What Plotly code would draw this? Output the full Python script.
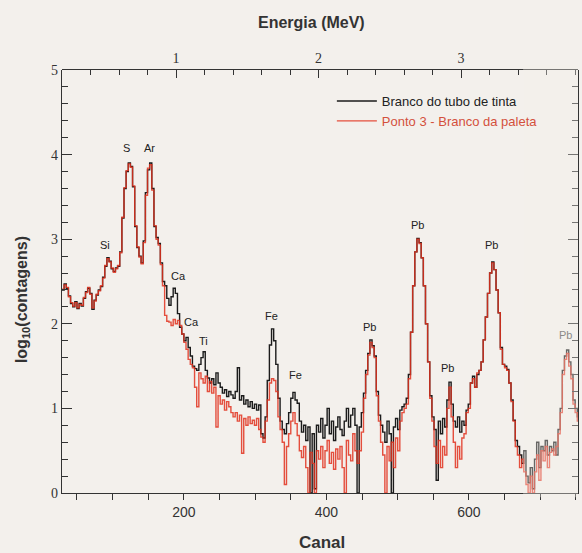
import plotly.graph_objects as go

# ---------------- data ----------------
channel_start = 29
channel_step = 3

black_log = [
    2.40, 2.47, 2.42, 2.33, 2.24, 2.20, 2.26, 2.18, 2.24, 2.21,
    2.30, 2.38, 2.42, 2.36, 2.17, 2.28, 2.34, 2.40, 2.44, 2.55,
    2.68, 2.78, 2.74, 2.65, 2.62, 2.66, 2.68, 2.85, 3.25, 3.60,
    3.80, 3.90, 3.86, 3.62, 3.15, 2.90, 2.80, 2.72, 2.98, 3.55,
    3.82, 3.90, 3.60, 3.15, 3.02, 2.95, 2.72, 2.50, 2.45, 2.30,
    2.22, 2.32, 2.42, 2.36, 2.12, 1.96, 1.88, 1.80, 1.84, 1.72,
    1.62, 1.50, 1.47, 1.45, 1.52, 1.60, 1.67, 1.45, 1.36, 1.30,
    1.35, 1.28, 1.42, 1.30, 1.25, 1.18, 1.22, 1.14, 1.20, 1.16,
    1.12, 1.20, 1.48, 1.10, 1.15, 1.05, 1.10, 1.02, 1.08, 1.00,
    1.05, 0.98, 1.04, 0.70, 0.65, 0.90, 1.33, 1.75, 1.94, 1.80,
    1.52, 1.12, 0.85, 0.75, 0.70, 0.82, 0.95, 1.12, 1.19, 1.10,
    1.06, 0.85, 0.72, 0.80, 0.62, 0.78, 0.00, 0.70, 0.05, 0.80,
    0.72, 0.88, 0.65, 0.80, 1.00, 0.70, 0.85, 0.62, 0.78, 0.90,
    0.75, 0.68, 0.85, 1.00, 0.78, 0.92, 1.00, 0.80, 0.00, 0.78,
    0.95, 1.18, 1.45, 1.65, 1.81, 1.74, 1.62, 1.20, 0.92, 0.80,
    0.72, 0.60, 0.85, 0.70, 0.00, 0.78, 0.88, 0.75, 0.98, 1.02,
    1.05, 1.12, 1.40, 1.90, 2.45, 2.85, 3.01, 2.96, 2.78, 2.45,
    2.00, 1.55, 1.15, 0.90, 0.75, 0.15, 0.85, 0.70, 0.88, 0.78,
    1.10, 1.31, 1.05, 0.85, 0.78, 0.90, 0.72, 0.85, 0.80, 0.98,
    1.05, 1.30, 1.38, 1.25, 1.40, 1.45, 1.55, 1.81, 2.08, 2.36,
    2.60, 2.73, 2.64, 2.40, 2.13, 1.72, 1.52, 1.50, 1.46, 1.30,
    1.10, 0.86, 0.62, 0.55, 0.45, 0.35, 0.50, 0.20, 0.12, 0.30,
    0.05, 0.40, 0.60, 0.30, 0.55, 0.50, 0.62, 0.45, 0.55, 0.50,
    0.60, 0.45, 0.75, 1.00, 1.45, 1.62, 1.69, 1.55, 1.40, 1.10,
    1.00, 0.90, 0.85, 0.80,
]

red_log = [
    2.41, 2.46, 2.43, 2.32, 2.25, 2.21, 2.25, 2.19, 2.23, 2.22,
    2.31, 2.37, 2.43, 2.35, 2.19, 2.27, 2.35, 2.39, 2.45, 2.54,
    2.69, 2.77, 2.73, 2.66, 2.61, 2.65, 2.69, 2.84, 3.26, 3.61,
    3.81, 3.89, 3.85, 3.63, 3.16, 2.91, 2.79, 2.71, 2.96, 3.52,
    3.84, 3.88, 3.58, 3.16, 3.00, 2.93, 2.70, 2.45, 2.10, 2.03,
    2.02, 1.98, 2.05, 2.00, 2.04, 1.98, 1.88, 1.78, 1.70, 1.58,
    1.52, 1.48, 1.25, 1.02, 1.42, 1.35, 1.30, 1.38, 1.20, 1.32,
    1.18, 1.25, 0.78, 1.15, 1.05, 1.10, 0.98, 1.08, 1.02, 0.95,
    0.90, 0.95, 0.85, 0.92, 0.47, 0.88, 0.80, 0.90, 0.82, 0.86,
    0.80, 0.88, 0.75, 0.66, 0.60, 0.85, 1.10, 1.30, 1.35, 1.33,
    1.20, 0.90, 0.75, 0.60, 0.10, 0.55, 0.70, 0.85, 0.95, 0.82,
    0.68, 0.50, 0.42, 0.55, 0.30, 0.00, 0.48, 0.35, 0.00, 0.50,
    0.40, 0.55, 0.30, 0.50, 0.62, 0.35, 0.48, 0.28, 0.52, 0.40,
    0.55, 0.30, 0.00, 0.62, 0.45, 0.38, 0.70, 0.50, 0.35, 0.50,
    0.72, 1.12, 1.40, 1.63, 1.78, 1.72, 1.60, 1.15, 0.85, 0.60,
    0.45, 0.00, 0.55, 0.38, 0.60, 0.30, 0.65, 0.50, 0.85, 0.95,
    1.00, 1.05, 1.35, 1.90, 2.45, 2.85, 3.00, 2.95, 2.78, 2.45,
    2.00, 1.55, 1.12, 0.85, 0.55, 0.35, 0.62, 0.30, 0.55, 0.45,
    1.00, 1.25, 0.90, 0.60, 0.30, 0.55, 0.40, 0.65, 0.70, 0.95,
    1.00, 1.30, 1.35, 1.25, 1.42, 1.45, 1.55, 1.81, 2.08, 2.36,
    2.60, 2.72, 2.64, 2.40, 2.13, 1.70, 1.52, 1.48, 1.45, 1.30,
    1.08, 0.85, 0.55, 0.45, 0.30, 0.40, 0.25, 0.10, 0.00, 0.20,
    0.00, 0.25, 0.45, 0.15, 0.50, 0.38, 0.55, 0.30, 0.48, 0.52,
    0.45, 0.55, 0.70, 0.95, 1.40, 1.58, 1.65, 1.50, 1.35, 1.05,
    0.95, 0.85, 0.80, 0.75,
]

channels = [channel_start + channel_step * i for i in range(len(black_log))]

series_names = ["Branco do tubo de tinta", "Ponto 3 - Branco da paleta"]

# peak labels: (text, channel, log10 counts)
peak_labels = [
    ("Si", 89, 2.93), ("S", 119, 4.08), ("Ar", 152, 4.08),
    ("Ca", 193, 2.56), ("Ca", 211, 2.02), ("Ti", 228, 1.80),
    ("Fe", 323, 2.09), ("Fe", 357, 1.39), ("Pb", 461, 1.96),
    ("Pb", 528, 3.17), ("Pb", 570, 1.48), ("Pb", 631, 2.93),
    ("Pb", 736, 1.87),
]

x_range = [29, 753]
y_range = [0, 5]
y_ticks = [0, 1, 2, 3, 4, 5]
energy_ticks = [1, 2, 3]
# energy calibration: channel = gain * E - offset
cal_gain = 200.0
cal_offset = 11.0
faded_from_channel = 676

# ---------------- figure ----------------
BG = "#f3f0ec"
RED = "#e2321f"
AX = "#333333"
fig = go.Figure()

fig.add_trace(go.Scatter(
    x=channels, y=black_log, mode="lines", line_shape="hv",
    line=dict(color="#1b1b1b", width=1.4), name=series_names[0],
))
fig.add_trace(go.Scatter(
    x=channels, y=red_log, mode="lines", line_shape="hv",
    line=dict(color=RED, width=1.4), opacity=0.85,
    name="<span style='color:#d4503c'>" + series_names[1] + "</span>",
))
# invisible trace on a thin top subplot that carries the energy axis
e_lo = (x_range[0] + cal_offset) / cal_gain
e_hi = (x_range[1] + cal_offset) / cal_gain
fig.add_trace(go.Scatter(
    x=[e_lo, e_hi], y=[None, None], xaxis="x2", yaxis="y2", mode="lines",
    showlegend=False, hoverinfo="skip",
))

for txt, ch, yv in peak_labels:
    fig.add_annotation(
        x=ch, y=yv, text=txt, showarrow=False,
        font=dict(family="Liberation Sans, Arial", size=11, color="#222"),
        opacity=0.5 if ch > 700 else 1.0,
    )

# scan-fade on the right side of the original figure
fig.add_shape(
    type="rect", xref="x", yref="paper", x0=faded_from_channel, x1=x_range[1] + 20,
    y0=-0.01, y1=1.01, fillcolor=BG, opacity=0.35, line_width=0, layer="above",
)

tickfont_serif = dict(family="Liberation Serif, Times New Roman", size=14, color=AX)

fig.update_layout(
    width=582, height=553,
    margin=dict(l=62, r=4, t=70, b=60),
    paper_bgcolor=BG, plot_bgcolor=BG,
    showlegend=True,
    legend=dict(
        x=0.523, y=0.962, xanchor="left", yanchor="top",
        bgcolor="rgba(0,0,0,0)", borderwidth=0,
        font=dict(family="Liberation Sans, Arial", size=13, color="#222"),
        itemwidth=40, tracegroupgap=0,
    ),
    xaxis=dict(
        range=x_range, tickvals=[200, 400, 600], domain=[0, 1], anchor="y",
        ticks="outside", ticklen=6, tickcolor=AX, tickwidth=1,
        minor=dict(dtick=50, tick0=0, ticks="outside", ticklen=6, tickcolor=AX),
        showline=True, linecolor=AX, linewidth=1.2, mirror=False,
        showgrid=False, zeroline=False,
        tickfont=dict(family="Liberation Sans, Arial", size=14, color=AX),
    ),
    xaxis2=dict(
        anchor="y2", side="top", range=[e_lo, e_hi], domain=[0, 1],
        tickvals=energy_ticks, ticks="inside", ticklen=8, tickcolor=AX,
        minor=dict(dtick=0.2, tick0=0, ticks="inside", ticklen=5, tickcolor=AX),
        showline=True, linecolor=AX, linewidth=1.2,
        showgrid=False, zeroline=False, tickfont=tickfont_serif,
    ),
    yaxis2=dict(
        domain=[0.995, 1.0], anchor="x2", range=[0, 1], visible=False,
        showgrid=False, zeroline=False,
    ),
    yaxis=dict(
        domain=[0, 1], anchor="x",
        range=y_range, tickvals=y_ticks, ticktext=[str(v) for v in y_ticks],
        ticks="inside", ticklen=10, tickcolor=AX, tickwidth=1.2,
        minor=dict(dtick=0.2, tick0=0, ticks="inside", ticklen=6, tickcolor=AX,
                   tickwidth=1.1),
        showline=True, linecolor=AX, linewidth=1.2, mirror="ticks",
        showgrid=False, zeroline=False, tickfont=tickfont_serif,
    ),
    annotations=list(fig.layout.annotations) + [
        dict(text="<b>Energia (MeV)</b>", xref="paper", yref="paper",
             x=0.484, y=1.113, xanchor="center", yanchor="middle", showarrow=False,
             font=dict(family="Liberation Sans, Arial", size=16, color=AX)),
        dict(text="<b>Canal</b>", xref="paper", yref="paper",
             x=0.504, y=-0.118, xanchor="center", yanchor="middle", showarrow=False,
             font=dict(family="Liberation Sans, Arial", size=17, color=AX)),
        dict(text="<b>log<sub>10</sub>(contagens)</b>", xref="paper", yref="paper",
             x=-0.0775, y=0.456, xanchor="center", yanchor="middle",
             showarrow=False, textangle=-90,
             font=dict(family="Liberation Sans, Arial", size=16, color=AX)),
    ],
)

fig.write_html(
    "out.html",
    config={"displayModeBar": False},
    post_script="document.body.style.margin='0';document.body.style.background='#f3f0ec';",
)
